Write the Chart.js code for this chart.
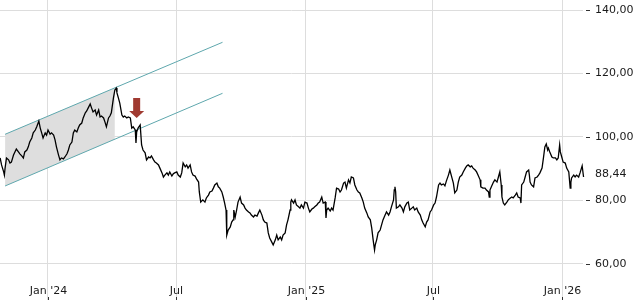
<!DOCTYPE html>
<html>
<head>
<meta charset="utf-8">
<script src="https://cdn.jsdelivr.net/npm/chart.js@4/dist/chart.umd.min.js"></script>
<style>
html,body{margin:0;padding:0;background:#fff;}
#wrap{width:640px;height:300px;}
</style>
</head>
<body>
<div id="wrap"><canvas id="c" width="640" height="300"></canvas></div>
<script>
// days since 2024-01-01
const days = [
-68,-66,-63,-62,-61,-59,-56,-54,-52,-49,
-47,-45,-42,-40,-37,-35,-33,-30,-28,-26,
-23,-21,-18,-16,-13,-11,-9,-7,-4,-2,
0,3,5,8,10,12,15,17,19,22,
24,27,29,31,34,36,38,41,43,45,
48,50,53,55,57,60,62,64,67,69,
72,74,76,79,81,83,86,88,90,93,
95,97,98,100,102,105,107,109,112,114,
117,119,121,124,125,126,128,131,133,135,
138,140,143,145,147,150,152,154,157,159,
162,164,166,169,171,173,176,178,180,183,
185,188,190,192,195,197,199,202,204,206,
209,211,214,215,217,220,223,225,228,230,
233,235,237,240,242,244,247,249,251,253,
254,256,259,261,263,264,266,268,270,273,
275,278,280,282,285,287,289,292,294,297,
299,301,304,306,308,311,313,315,318,320,
323,325,327,330,332,334,337,339,341,344,
345,346,349,351,353,356,358,360,363,365,
368,370,372,375,377,379,382,384,386,389,
391,394,395,396,398,401,403,405,408,410,
413,415,417,420,422,424,427,429,431,434,
436,439,441,443,446,448,450,453,455,458,
460,462,464,465,467,469,472,474,476,479,
481,484,486,488,491,492,493,494,495,498,
500,503,505,507,510,512,514,517,519,521,
524,526,529,531,533,536,538,540,543,545,
548,550,552,555,557,559,562,564,566,569,
571,574,576,578,581,583,585,588,590,593,
595,597,600,602,604,607,609,611,614,615,
618,621,623,626,627,628,630,633,635,638,
640,642,644,645,647,649,652,654,657,659,
661,664,666,668,671,672,673,676,678,680,
683,684,685,687,690,692,695,697,699,702,
704,706,708,710,711,713,716,718,721,723,
725,727,728,730,732,735,737,740,742,743,
744,747,749,751,754,756,759,761,762
];
const prices = [
93.4,91.2,89.0,88.0,90.2,93.4,92.8,91.8,92.1,94.3,
95.3,96.2,95.3,94.7,94.0,93.4,95.3,95.9,96.9,98.4,
99.7,101.3,102.2,103.2,105.0,102.8,101.3,99.7,101.3,100.6,
102.2,100.9,101.3,100.6,99.1,96.9,94.3,92.8,93.4,93.1,
93.7,94.7,95.9,97.5,98.4,101.3,102.2,101.6,102.8,103.8,
104.4,106.0,107.6,108.2,109.1,110.4,109.1,107.9,108.5,106.9,
108.5,106.3,106.6,106.0,104.7,103.2,106.0,106.6,107.6,112.3,
114.8,115.4,113.9,112.3,110.7,106.9,106.3,106.6,106.0,106.3,
106.0,102.8,103.2,102.2,98.1,101.6,102.8,103.8,97.5,95.9,
95.0,92.8,93.7,93.4,94.0,92.8,92.1,91.8,91.2,90.2,
88.7,87.4,88.0,88.7,88.0,89.0,87.7,88.4,88.7,89.0,
88.0,87.4,88.7,91.8,90.6,91.2,90.2,91.2,89.0,88.0,
87.7,86.8,85.8,82.7,79.5,80.2,79.5,80.8,81.7,82.7,
83.0,83.9,84.9,85.5,84.3,83.9,82.7,81.1,79.2,77.0,
69.1,70.7,71.7,73.2,73.9,77.0,74.8,77.0,79.5,81.1,
79.2,78.6,77.6,77.0,76.4,76.1,75.4,74.8,75.4,75.1,
76.1,77.0,75.4,73.9,73.2,72.9,69.8,68.2,66.9,66.0,
67.6,69.1,67.6,68.5,67.6,69.1,69.8,72.3,73.9,77.0,
79.5,80.2,79.2,80.2,78.6,78.0,77.6,78.6,77.6,79.5,
79.2,77.6,76.4,77.3,77.6,78.0,78.6,79.2,79.5,81.1,
79.2,79.5,74.5,77.0,77.6,76.7,77.6,77.0,80.8,83.9,
83.6,82.7,83.3,85.5,85.8,83.9,86.5,85.5,87.4,87.1,
84.9,83.3,82.7,82.4,80.8,79.5,77.6,76.1,74.8,73.9,
71.3,67.6,64.4,66.0,67.6,69.8,70.7,72.3,73.9,75.4,
76.4,75.4,76.4,78.0,80.2,83.3,84.3,82.7,77.6,78.0,
78.6,77.6,76.4,78.0,79.2,79.5,77.0,77.6,78.0,77.0,
77.6,76.4,75.4,73.9,72.9,71.7,73.2,73.9,76.4,77.0,
78.6,79.2,81.1,84.9,85.5,84.9,85.2,84.6,86.1,88.0,
89.6,87.1,85.5,82.4,83.3,85.8,87.4,88.0,89.0,90.2,
90.9,91.2,90.6,90.9,90.2,89.6,89.0,88.0,86.5,84.3,
83.9,83.9,83.3,82.7,81.1,83.3,84.3,85.8,86.5,85.8,
87.4,89.0,84.9,81.1,79.2,78.6,79.5,80.2,80.8,81.1,
80.8,81.7,82.4,81.1,80.8,79.2,84.9,85.8,87.4,89.0,
89.6,88.0,85.8,84.9,84.3,87.1,87.4,88.0,88.7,90.2,
93.4,96.9,97.8,95.9,96.5,95.3,93.7,93.4,93.4,92.8,
93.4,97.5,95.3,93.7,92.1,91.8,90.2,89.0,83.9,85.8,
87.1,88.0,87.4,88.0,87.4,88.7,90.9,87.4,88.44
];
const xTickDays = [0, 182, 366, 547, 731];
const xTickLabels = ["Jan '24", "Jul", "Jan '25", "Jul", "Jan '26"];
const yTickValues = [60, 80, 100, 120, 140];

// trend channel (days, values)
const channelDays = [-61, 248];
const channelUpper = [100.85, 129.83];
const channelLower = [84.57, 113.76];
const shadeDays = [-61, 95];
const shadeUpper = [100.85, 115.48];
const shadeLower = [84.57, 99.31];

// sell signal arrow (day, top value, tip value)
const arrowDay = 126;
const arrowTop = 112.3;
const arrowTip = 106.0;

const n = Math.min(days.length, prices.length);
const pricePts = [];
for (let i = 0; i < n; i++) pricePts.push({x: days[i], y: prices[i]});
const pts = (xs, ys) => xs.map((x, i) => ({x: x, y: ys[i]}));

const FONT = '11px "DejaVu Sans"';
const TEXT = '#1a1a1a';

const overlay = {
  id: 'overlay',
  afterDatasetsDraw(chart) {
    const ctx = chart.ctx, xs = chart.scales.x, ys = chart.scales.y;
    const cx = xs.getPixelForValue(arrowDay);
    const top = ys.getPixelForValue(arrowTop);
    const tip = ys.getPixelForValue(arrowTip);
    ctx.save();
    ctx.fillStyle = '#a03a31';
    ctx.beginPath();
    ctx.moveTo(cx - 3.5, top);
    ctx.lineTo(cx + 3.5, top);
    ctx.lineTo(cx + 3.5, tip - 7);
    ctx.lineTo(cx + 7.5, tip - 7);
    ctx.lineTo(cx, tip);
    ctx.lineTo(cx - 7.5, tip - 7);
    ctx.lineTo(cx - 3.5, tip - 7);
    ctx.closePath();
    ctx.fill();
    ctx.restore();
  },
  afterDraw(chart) {
    const ctx = chart.ctx, xs = chart.scales.x, ys = chart.scales.y, area = chart.chartArea;
    ctx.save();
    ctx.font = FONT;
    ctx.fillStyle = TEXT;
    ctx.strokeStyle = '#333';
    ctx.lineWidth = 1;
    ctx.textAlign = 'center';
    ctx.textBaseline = 'alphabetic';
    xTickDays.forEach((d, i) => {
      const px = Math.round(xs.getPixelForValue(d)) + 0.5;
      ctx.fillText(xTickLabels[i], px, 294);
      ctx.beginPath();
      ctx.moveTo(px, 297);
      ctx.lineTo(px, 300);
      ctx.stroke();
    });
    yTickValues.forEach(v => {
      const py = Math.round(ys.getPixelForValue(v)) + 0.5;
      ctx.beginPath();
      ctx.moveTo(area.right + 3, py);
      ctx.lineTo(area.right + 7, py);
      ctx.stroke();
    });
    const last = prices[n - 1];
    ctx.textAlign = 'left';
    ctx.textBaseline = 'middle';
    ctx.fillText(last.toFixed(2).replace('.', ','), area.right + 12, ys.getPixelForValue(last));
    ctx.restore();
  }
};

new Chart(document.getElementById('c'), {
  type: 'line',
  data: {
    datasets: [
      {data: pricePts, borderColor: '#000', borderWidth: 1.3, pointRadius: 0, tension: 0, order: 0, clip: false, fill: false},
      {data: pts(channelDays, channelUpper), borderColor: '#5ea7ad', borderWidth: 1, pointRadius: 0, order: 1, fill: false},
      {data: pts(channelDays, channelLower), borderColor: '#5ea7ad', borderWidth: 1, pointRadius: 0, order: 1, fill: false},
      {data: pts(shadeDays, shadeUpper), borderWidth: 0, borderColor: 'rgba(0,0,0,0)', pointRadius: 0, order: 3, fill: false},
      {data: pts(shadeDays, shadeLower), borderWidth: 0, borderColor: 'rgba(0,0,0,0)', pointRadius: 0, order: 2, fill: '-1', backgroundColor: '#dedede'}
    ]
  },
  options: {
    responsive: false,
    animation: false,
    devicePixelRatio: 1,
    layout: {padding: 0, autoPadding: false},
    plugins: {legend: {display: false}, tooltip: {enabled: false}},
    scales: {
      x: {
        type: 'linear',
        min: -68.2,
        max: 760.2,
        offset: false,
        afterBuildTicks: s => { s.ticks = xTickDays.map(v => ({value: v})); },
        afterFit: s => { s.height = 0; s.paddingTop = 0; s.paddingBottom = 0; s.paddingLeft = 0; s.paddingRight = 0; },
        ticks: {display: false},
        grid: {color: '#dddddd', lineWidth: 1, drawTicks: false},
        border: {display: false}
      },
      y: {
        position: 'right',
        min: 48.66,
        max: 143.15,
        afterBuildTicks: s => { s.ticks = yTickValues.map(v => ({value: v})); },
        afterFit: s => { s.width = 57; s.paddingTop = 0; s.paddingBottom = 0; },
        ticks: {
          padding: 12,
          color: TEXT,
          font: {family: 'DejaVu Sans', size: 11},
          callback: v => Number(v).toFixed(2).replace('.', ',')
        },
        grid: {color: '#dddddd', lineWidth: 1, drawTicks: false},
        border: {display: false}
      }
    }
  },
  plugins: [overlay]
});
</script>
</body>
</html>
